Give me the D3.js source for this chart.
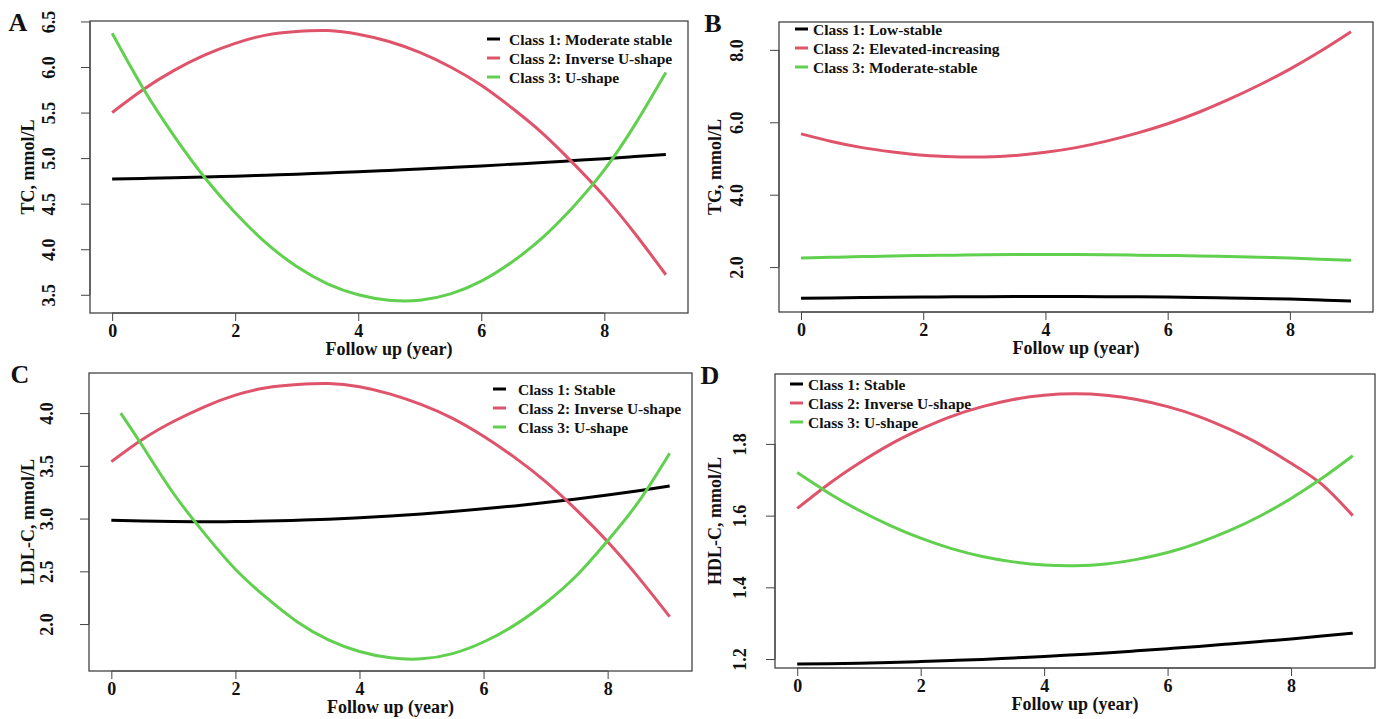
<html>
<head>
<script src="https://d3js.org/d3.v7.min.js"></script>
<style>
  body { margin: 0; background: #fff; }
  svg text { font-family: "Liberation Serif", "Times New Roman", serif; font-weight: bold; fill: #111; }
</style>
</head>
<body>
<div id="chart"></div>
<script>
// follow-up time points (years)
var years = [0, 0.5, 1, 1.5, 2, 2.5, 3, 3.5, 4, 4.5, 5, 5.5, 6, 6.5, 7, 7.5, 8, 8.5, 9];
var yearsLdlU = [0.15, 0.5, 1, 1.5, 2, 2.5, 3, 3.5, 4, 4.5, 5, 5.5, 6, 6.5, 7, 7.5, 8, 8.5, 9];
var xTicks = [0, 2, 4, 6, 8];

// A: TC
var tcStable  = [4.770, 4.777, 4.784, 4.793, 4.802, 4.813, 4.824, 4.837, 4.850, 4.865, 4.880, 4.897, 4.914, 4.933, 4.952, 4.973, 4.994, 5.017, 5.040];
var tcInverse = [5.50, 5.75, 5.96, 6.13, 6.26, 6.35, 6.39, 6.40, 6.36, 6.28, 6.16, 6.00, 5.80, 5.55, 5.27, 4.94, 4.58, 4.17, 3.72];
var tcU       = [6.37, 5.77, 5.25, 4.79, 4.40, 4.07, 3.81, 3.62, 3.50, 3.44, 3.44, 3.51, 3.65, 3.86, 4.13, 4.47, 4.87, 5.37, 5.94];
var tcTicks = [3.5, 4.0, 4.5, 5.0, 5.5, 6.0, 6.5];

// B: TG
var tgLow      = [1.140, 1.150, 1.159, 1.167, 1.174, 1.180, 1.184, 1.187, 1.188, 1.187, 1.184, 1.179, 1.172, 1.162, 1.150, 1.135, 1.117, 1.092, 1.062];
var tgElevated = [5.68, 5.47, 5.30, 5.18, 5.09, 5.05, 5.04, 5.08, 5.17, 5.30, 5.48, 5.70, 5.96, 6.27, 6.63, 7.03, 7.47, 7.96, 8.50];
var tgModerate = [2.25, 2.27, 2.29, 2.31, 2.32, 2.33, 2.34, 2.35, 2.35, 2.35, 2.34, 2.33, 2.32, 2.31, 2.29, 2.27, 2.25, 2.22, 2.19];
var tgTicks = [2, 4, 6, 8];

// C: LDL-C
var ldlStable  = [2.983, 2.976, 2.972, 2.970, 2.972, 2.976, 2.984, 2.994, 3.008, 3.024, 3.044, 3.066, 3.092, 3.120, 3.152, 3.186, 3.224, 3.264, 3.308];
var ldlInverse = [3.54, 3.75, 3.92, 4.06, 4.17, 4.24, 4.27, 4.28, 4.25, 4.18, 4.08, 3.95, 3.78, 3.58, 3.35, 3.08, 2.78, 2.44, 2.07];
var ldlU       = [4.00, 3.69, 3.24, 2.86, 2.52, 2.25, 2.02, 1.85, 1.74, 1.68, 1.67, 1.72, 1.83, 1.99, 2.20, 2.46, 2.79, 3.16, 3.62];
var ldlTicks = [2.0, 2.5, 3.0, 3.5, 4.0];

// D: HDL-C
var hdlStable  = [1.186, 1.187, 1.188, 1.190, 1.193, 1.196, 1.199, 1.203, 1.207, 1.212, 1.217, 1.223, 1.229, 1.235, 1.242, 1.249, 1.256, 1.264, 1.272];
var hdlInverse = [1.620, 1.687, 1.746, 1.798, 1.841, 1.877, 1.904, 1.924, 1.936, 1.940, 1.936, 1.924, 1.904, 1.877, 1.841, 1.798, 1.746, 1.687, 1.600];
var hdlU       = [1.720, 1.664, 1.615, 1.573, 1.537, 1.508, 1.486, 1.471, 1.462, 1.460, 1.465, 1.478, 1.497, 1.524, 1.558, 1.599, 1.648, 1.704, 1.767];
var hdlTicks = [1.2, 1.4, 1.6, 1.8];

var colors = ["#000000", "#DF536B", "#61D04F"];

var panels = [
  { letter: "A", ylab: "TC, mmol/L", box: [90, 21, 688, 313], ydom: [3.30, 6.505], yticks: tcTicks,
    series: [[years, tcStable], [years, tcInverse], [years, tcU]],
    legend: ["Class 1: Moderate stable", "Class 2: Inverse U-shape", "Class 3: U-shape"],
    leg: [487, 509, 39], letterX: 18, tickX: 49, titleX: 28 },
  { letter: "B", ylab: "TG, mmol/L", box: [779, 22, 1373, 312], ydom: [0.76, 8.77], yticks: tgTicks,
    series: [[years, tgLow], [years, tgElevated], [years, tgModerate]],
    legend: ["Class 1: Low-stable", "Class 2: Elevated-increasing", "Class 3: Moderate-stable"],
    leg: [795, 813, 29], letterX: 713, tickX: 737, titleX: 715 },
  { letter: "C", ylab: "LDL-C, mmol/L", box: [89, 373, 692, 671], ydom: [1.555, 4.38], yticks: ldlTicks,
    series: [[years, ldlStable], [years, ldlInverse], [yearsLdlU, ldlU]],
    legend: ["Class 1: Stable", "Class 2: Inverse U-shape", "Class 3: U-shape"],
    leg: [493, 518, 389], letterX: 20, tickX: 47, titleX: 28 },
  { letter: "D", ylab: "HDL-C, mmol/L", box: [775, 374, 1375, 668], ydom: [1.175, 1.995], yticks: hdlTicks,
    series: [[years, hdlStable], [years, hdlInverse], [years, hdlU]],
    legend: ["Class 1: Stable", "Class 2: Inverse U-shape", "Class 3: U-shape"],
    leg: [790, 808, 384], letterX: 710, tickX: 740, titleX: 715 }
];

var svg = d3.select("#chart").append("svg")
  .attr("width", 1379)
  .attr("height", 719);

panels.forEach(function(p) {
  var x0 = p.box[0], y0 = p.box[1], x1 = p.box[2], y1 = p.box[3];
  var x = d3.scaleLinear().domain([-0.36, 9.36]).range([x0, x1]);
  var y = d3.scaleLinear().domain(p.ydom).range([y1, y0]);
  var g = svg.append("g");

  // curves
  var line = d3.line().curve(d3.curveNatural)
    .x(function(d) { return x(d[0]); })
    .y(function(d) { return y(d[1]); });
  p.series.forEach(function(s, i) {
    var pts = s[0].map(function(t, k) { return [t, s[1][k]]; });
    g.append("path").datum(pts)
      .attr("d", line)
      .attr("fill", "none")
      .attr("stroke", colors[i])
      .attr("stroke-width", 3);
  });

  // box
  g.append("rect")
    .attr("x", x0).attr("y", y0)
    .attr("width", x1 - x0).attr("height", y1 - y0)
    .attr("fill", "none").attr("stroke", "#444").attr("stroke-width", 1.3);

  // x axis
  var xa = g.append("g").attr("transform", "translate(0," + y1 + ")")
    .call(d3.axisBottom(x).tickValues(xTicks).tickSize(8).tickPadding(3).tickFormat(d3.format("d")));
  xa.select(".domain").attr("d", "M" + x(0) + ",0H" + x(8)).attr("stroke", "#444");
  xa.selectAll(".tick line").attr("stroke", "#444");
  xa.selectAll("text").style("font-size", "18px").attr("fill", "#111");

  g.append("text")
    .attr("x", (x0 + x1) / 2).attr("y", y1 + 42)
    .attr("text-anchor", "middle")
    .style("font-size", "18px")
    .text("Follow up (year)");

  // y axis
  var ya = g.append("g").attr("transform", "translate(" + x0 + ",0)")
    .call(d3.axisLeft(y).tickValues(p.yticks).tickSize(9).tickFormat(d3.format(".1f")));
  ya.select(".domain").attr("d", "M0," + y(p.yticks[0]) + "V" + y(p.yticks[p.yticks.length - 1])).attr("stroke", "#444");
  ya.selectAll(".tick line").attr("stroke", "#444");
  ya.selectAll("text")
    .attr("x", null).attr("dy", null)
    .attr("transform", function() { return "translate(" + (p.tickX - x0) + ",0) rotate(-90)"; })
    .attr("text-anchor", "middle")
    .attr("dominant-baseline", "central")
    .style("font-size", "18px").attr("fill", "#111");

  g.append("text")
    .attr("transform", "translate(" + p.titleX + "," + ((y0 + y1) / 2) + ") rotate(-90)")
    .attr("text-anchor", "middle")
    .attr("dominant-baseline", "central")
    .style("font-size", "18px")
    .text(p.ylab);

  // panel letter
  g.append("text")
    .attr("x", p.letterX).attr("y", y0 + 10)
    .attr("text-anchor", "middle")
    .style("font-size", "26px")
    .text(p.letter);

  // legend
  p.legend.forEach(function(lab, i) {
    var ly = p.leg[2] + i * 19;
    g.append("line")
      .attr("x1", p.leg[0]).attr("x2", p.leg[0] + 13)
      .attr("y1", ly).attr("y2", ly)
      .attr("stroke", colors[i]).attr("stroke-width", 3);
    g.append("text")
      .attr("x", p.leg[1]).attr("y", ly)
      .attr("dominant-baseline", "central")
      .style("font-size", "15.5px")
      .text(lab);
  });
});
</script>
</body>
</html>
